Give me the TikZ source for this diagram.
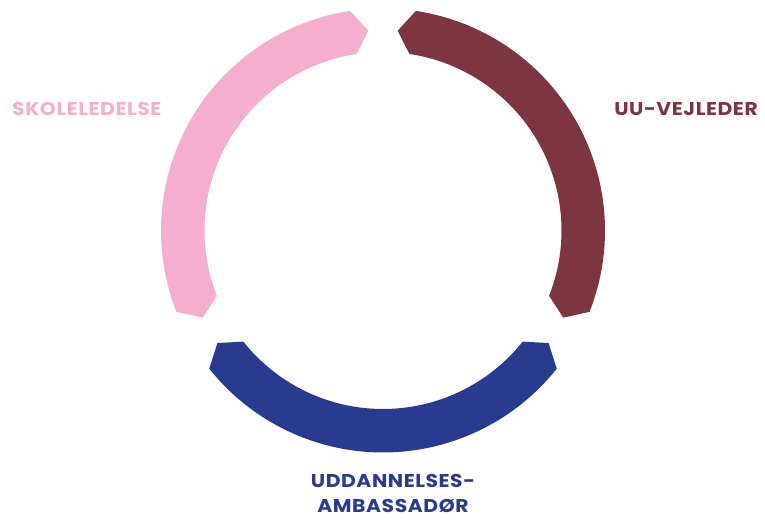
\documentclass[tikz,border=0pt]{standalone}
\usepackage{fontspec}
\newfontfamily\labfont{Poppins}[LetterSpace=3, FakeStretch=1.1]
\definecolor{pinkc}{RGB}{245,174,206}
\definecolor{maroonc}{RGB}{125,54,64}
\definecolor{bluec}{RGB}{41,59,143}
\tikzset{
  lab/.style={font=\labfont\bfseries\fontsize{18.5pt}{22pt}\selectfont, inner sep=0pt},
}
\newcommand\ringseg[3]{%
  \fill[#3] (#1:222pt) arc[start angle=#1, end angle=#2, radius=222pt]
    -- ({#2+4.3}:200.25pt) -- (#2:178.5pt)
    arc[start angle=#2, end angle=#1, radius=178.5pt]
    -- ({#1-4.3}:200.25pt) -- cycle;}
\begin{document}
\begin{tikzpicture}[x=1pt,y=1pt]
\useasboundingbox (0,0) rectangle (765,519);
\begin{scope}[shift={(383,288.5)}]
  \ringseg{98.5}{201.5}{pinkc}
  \ringseg{218.5}{321.5}{bluec}
  \ringseg{-21.5}{81.5}{maroonc}
\end{scope}
\node[lab, text=pinkc, anchor=base west] (skole) at (12,403) {SKOLELEDELSE};
\node[lab, text=maroonc, anchor=base east] (uu) at (758,403) {UU-VEJLEDER};
\node[lab, text=bluec, anchor=base] (udd) at (393,31) {UDDANNELSES-};
\node[lab, text=bluec, anchor=base] (amb) at (393,6) {AMBASSADØR};
\end{tikzpicture}
\end{document}
